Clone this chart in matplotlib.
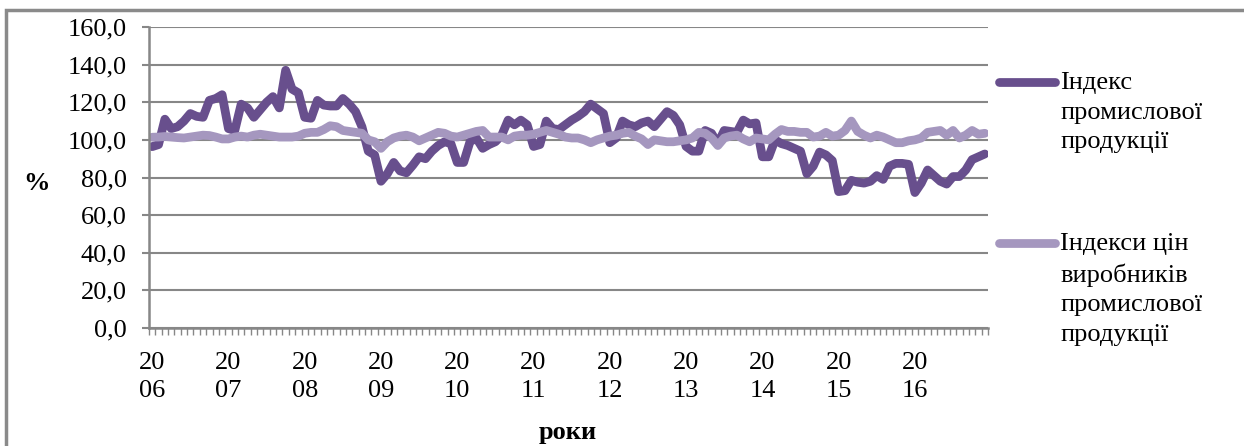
import matplotlib.pyplot as plt
from matplotlib.lines import Line2D
from matplotlib.patches import Rectangle

plt.rcParams['font.family'] = ['Liberation Serif', 'DejaVu Serif']

# monthly values, Jan 2006 .. Dec 2016
industrial = [
    96.4, 97.5, 111, 106, 107, 110, 114, 112.5, 112, 121, 122, 124,
    106, 105, 119, 117, 112, 116, 120, 123, 117, 137, 127, 125,
    112, 111.5, 121, 118.5, 118, 118, 122, 119, 115, 107, 94, 92,
    78, 82, 88, 83.5, 82.5, 86.5, 91, 90, 94, 97, 99, 98,
    88, 88, 99, 101, 95.5, 97.5, 99, 102.5, 110.5, 108, 110.5, 108,
    96.5, 97.5, 110, 106, 105.5, 108, 110.5, 112.5, 115, 119, 116.5, 114,
    98.5, 101, 110, 108, 107, 109, 110, 107, 111, 115, 113, 108,
    96.5, 94, 94, 105, 103.5, 98, 105, 104.5, 104, 110.5, 108.5, 109,
    91, 91, 100, 98, 97, 95.5, 94, 82, 86, 93.5, 92, 89,
    72.5, 73, 78.5, 77.5, 77, 78, 81, 79, 86, 87.5, 87.5, 87,
    72, 77, 84, 81, 78, 76.5, 80.5, 80.5, 84, 89.5, 91, 92.5,
]
prices = [
    101.4, 101.5, 101.8, 101.5, 101.2, 101, 101.5, 102, 102.5, 102.3, 101.5, 100.5,
    100.5, 101.5, 102, 101.5, 102.5, 103, 102.5, 102, 101.5, 101.5, 101.5, 102,
    103.5, 104, 104, 105.5, 107.5, 107, 105, 104.5, 104, 103.5, 100, 99,
    95.5, 99, 101, 102, 102.5, 101.5, 99.5, 101, 102.5, 104, 103.5, 102,
    101.5, 102.5, 103.5, 104.5, 105, 101.5, 101.5, 101.5, 100, 102, 102.5, 102.5,
    103, 104, 105, 104, 103, 101.5, 101, 101, 100, 98.5, 100, 101,
    102, 102.5, 103.5, 104, 102, 100.5, 97.5, 100, 99.5, 99, 99, 99.5,
    100, 101, 104, 103.5, 101, 97, 101, 102, 102.5, 100.5, 99, 101,
    100.5, 100, 103, 105.5, 104.5, 104.5, 104, 104, 101.5, 102, 104, 102,
    102.5, 105, 110, 104.5, 102.5, 101, 102.5, 101.5, 100, 98.5, 98.5, 99.5,
    100, 101, 104, 104.5, 105, 102.5, 105, 101, 102.5, 105, 103, 103.5,
]
years = ['20\n06', '20\n07', '20\n08', '20\n09', '20\n10', '20\n11',
         '20\n12', '20\n13', '20\n14', '20\n15', '20\n16']
label_1 = 'Індекс\nпромислової\nпродукції'
label_2 = 'Індекси цін\nвиробників\nпромислової\nпродукції'

dark = '#684f8d'
light = '#a597bf'
grey = '#878787'
fs = 19

fig = plt.figure(figsize=(12.44, 4.46), dpi=100)
ax = fig.add_axes([149 / 1244, 1 - 328 / 446, (988 - 149) / 1244, (328 - 27) / 446])

x = list(range(len(industrial)))
ax.plot(x, industrial, color=dark, lw=6.3, solid_joinstyle='round', solid_capstyle='round')
ax.plot(x, prices, color=light, lw=6.3, solid_joinstyle='round', solid_capstyle='round')

ax.set_xlim(-0.5, len(x) - 0.5)
ax.set_ylim(0, 160)
ax.set_yticks(range(0, 161, 20))
ax.set_yticklabels([f'{v},0' for v in range(0, 161, 20)])
ax.set_xticks(range(0, len(x), 12))
ax.set_xticklabels(years, linespacing=1.35)
ax.set_xticks([i - 0.5 for i in range(len(x) + 1)], minor=True)

ax.grid(axis='y', color=grey, lw=1.5)
ax.set_axisbelow(True)
for s in ['top', 'right']:
    ax.spines[s].set_visible(False)
for s in ['left', 'bottom']:
    ax.spines[s].set_color(grey)
    ax.spines[s].set_linewidth(1.8)

ax.tick_params(axis='y', length=5, width=1.5, color=grey, pad=11, labelsize=fs)
ax.tick_params(axis='x', which='major', length=0, pad=17, labelsize=fs)
ax.tick_params(axis='x', which='minor', length=5, width=1, color=grey)

fig.text(37 / 1244, 1 - 183 / 446, '%', fontsize=fs, fontweight='bold', ha='center', va='center')
fig.text(568 / 1244, 1 - 433 / 446, 'роки', fontsize=fs, fontweight='bold', ha='center', va='center')

# legend drawn by hand to match the layout
for y0, col, txt in [(82, dark, label_1), (243, light, label_2)]:
    fig.add_artist(Line2D([999 / 1244, 1055 / 1244], [1 - y0 / 446] * 2, color=col, lw=6.3,
                          solid_capstyle='round'))
    fig.text(1060 / 1244, 1 - (y0 - 10) / 446, txt, fontsize=fs, ha='left', va='top',
             linespacing=1.45)

# outer frame
fig.add_artist(Rectangle((6 / 1244, -0.2), 1.2, 1.2 - 10 / 446, transform=fig.transFigure,
                         fill=False, edgecolor='#8a8a8a', lw=2.5))

fig.savefig('out.png', dpi=100)
